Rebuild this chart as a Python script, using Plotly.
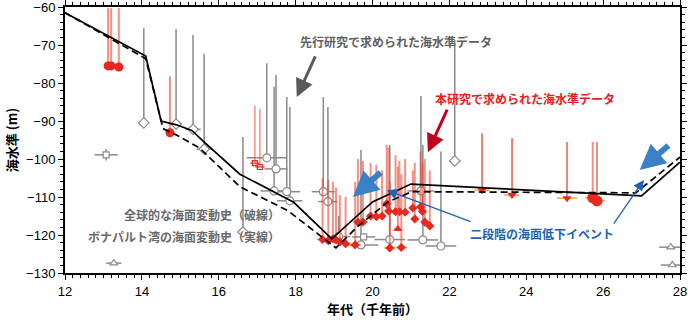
import plotly.graph_objects as go

# ---------------- sea-level history curves ----------------
bon_age = [12, 14.1, 14.5, 14.9, 15.3, 15.65, 16.55, 17.95, 18.94, 20.0, 21.0, 27.0, 28]
bon_sl = [-61.5, -72.9, -90.0, -91.0, -92.5, -95.8, -104.0, -111.4, -121.0, -111.3, -106.6, -109.7, -100.8]
glob_age = [12, 14.1, 14.55, 14.9, 15.5, 16.55, 17.8, 19.05, 19.6, 20.4, 21.02, 26.85, 28]
glob_sl = [-61.5, -73.6, -92.0, -93.7, -97.1, -107.3, -113.6, -123.4, -117.9, -111.3, -108.6, -108.9, -99.5]

# ---------------- previous studies (gray) ----------------
pc_age = [17.25, 17.49, 17.44, 17.77, 17.85, 18.72, 18.84, 19.12, 19.7, 20.45, 21.26, 21.31, 21.78]
pc_sl = [-99.7, -102.6, -108.4, -108.6, -111.0, -108.6, -111.2, -120.4, -122.6, -121.2, -108.4, -121.3, -122.9]
pc_xerr = [0.52, 0.3, 0.35, 0.35, 0.33, 0.3, 0.25, 0.3, 0.45, 0.4, 0.35, 0.4, 0.4]
pc_top = [-74.8, -77.9, -81.0, -83.7, -86.3, -83.7, -86.3, -115.0, -97.6, -96.3, -83.4, -96.3, -98.0]

pd_age = [14.05, 14.89, 15.33, 15.62, 16.63, 22.14]
pd_sl = [-90.5, -90.8, -92.2, -97.4, -119.2, -100.5]
pd_xerr = [0.0, 0.15, 0.2, 0.2, 0.0, 0.15]
pd_top = [-65.5, -65.8, -67.4, -72.4, -94.2, -68.7]

pt_age = [13.27, 27.76, 27.8]
pt_sl = [-127.4, -123.2, -127.9]
pt_xerr = [0.2, 0.3, 0.3]

ps_age = [13.07, 19.77]
ps_sl = [-98.9, -120.5]
ps_xerr = [0.3, 0.3]
ps_yerr = [1.5, 0.5]

# ---------------- this study (red) ----------------
rc_age = [13.12, 13.2, 13.4, 14.73]
rc_sl = [-75.5, -75.5, -75.8, -93.1]
rc_top = [-60.3, -60.3, -60.3, -78.2]

rs_age = [16.94, 17.07]
rs_sl = [-101.1, -102.1]
rs_top = [-86.0, -86.8]

rk_age = [18.7, 18.85, 18.97, 19.05, 19.15, 19.3, 19.55, 19.62, 19.75, 19.95, 20.1, 20.25,
          20.37, 20.42, 20.45, 20.6, 20.7, 20.75, 20.85, 21.05, 21.1, 21.25, 21.3, 21.36, 21.49]
rk_sl = [-121.2, -121.5, -121.0, -121.3, -121.8, -122.3, -122.6, -116.6, -116.6, -115.0, -115.2, -115.0,
         -111.8, -113.7, -123.4, -113.9, -113.9, -123.3, -114.0, -112.9, -115.8, -112.6, -113.8, -116.6, -117.6]
rk_top = [-105.0, -105.5, -106.0, -107.5, -109.5, -110.0, -106.0, -100.0, -100.5, -101.0, -101.5, -103.0,
          -96.3, -97.0, -106.0, -99.0, -100.5, -104.0, -100.0, -103.0, -101.0, -98.0, -101.0, -100.0, -103.0]
rk_xerr = [0.15, 0.15, 0.15, 0.15, 0.15, 0.15, 0.15, 0.12, 0.12, 0.1, 0.1, 0.1,
           0.12, 0.1, 0.15, 0.1, 0.1, 0.15, 0.1, 0.1, 0.1, 0.12, 0.1, 0.1, 0.1]

rtri_age = [20.66]
rtri_sl = [-118.4]
rtri_top = [-102.0]

rd_age = [22.85, 23.63, 25.06]
rd_sl = [-108.2, -109.5, -110.3]
rd_top = [-93.2, -94.5, -95.5]
rd_xerr = [0.2, 0.2, 0.27]

rb_age = [25.73, 25.84]
rb_sl = [-110.2, -111.0]
rb_top = [-95.5, -95.5]

GRAY = "#8a8a8a"
RED = "#e8281e"
RED_LINE = "rgba(236,70,50,0.6)"
ORANGE = "#f5a545"


def up(top, y):
    return [t - v for t, v in zip(top, y)]


fig = go.Figure()

# gray data
fig.add_trace(go.Scatter(x=pd_age, y=pd_sl, mode="markers",
                         marker=dict(symbol="diamond", size=8, color="white", line=dict(color=GRAY, width=1.2)),
                         error_y=dict(type="data", symmetric=False, array=up(pd_top, pd_sl), arrayminus=[0] * len(pd_sl),
                                      color=GRAY, thickness=1.5, width=0),
                         error_x=dict(type="data", array=pd_xerr, color=GRAY, thickness=1.5, width=0)))
fig.add_trace(go.Scatter(x=pc_age, y=pc_sl, mode="markers",
                         marker=dict(symbol="circle", size=8, color="white", line=dict(color=GRAY, width=1.2)),
                         error_y=dict(type="data", symmetric=False, array=up(pc_top, pc_sl), arrayminus=[0] * len(pc_sl),
                                      color=GRAY, thickness=1.5, width=0),
                         error_x=dict(type="data", array=pc_xerr, color=GRAY, thickness=1.5, width=0)))
fig.add_trace(go.Scatter(x=pt_age, y=pt_sl, mode="markers",
                         marker=dict(symbol="triangle-up", size=7, color="white", line=dict(color=GRAY, width=1.2)),
                         error_x=dict(type="data", array=pt_xerr, color=GRAY, thickness=1.5, width=0)))
fig.add_trace(go.Scatter(x=ps_age, y=ps_sl, mode="markers",
                         marker=dict(symbol="square", size=6, color="white", line=dict(color=GRAY, width=1.2)),
                         error_y=dict(type="data", array=ps_yerr, color=GRAY, thickness=1.5, width=0),
                         error_x=dict(type="data", array=ps_xerr, color=GRAY, thickness=1.5, width=0)))

# red data
fig.add_trace(go.Scatter(x=rk_age, y=rk_sl, mode="markers",
                         marker=dict(symbol="diamond", size=7, color=RED),
                         error_y=dict(type="data", symmetric=False, array=up(rk_top, rk_sl), arrayminus=[0] * len(rk_sl),
                                      color=RED_LINE, thickness=2, width=0),
                         error_x=dict(type="data", array=rk_xerr, color=ORANGE, thickness=1.5, width=0)))
fig.add_trace(go.Scatter(x=rtri_age, y=rtri_sl, mode="markers",
                         marker=dict(symbol="triangle-up", size=8, color=RED),
                         error_y=dict(type="data", symmetric=False, array=up(rtri_top, rtri_sl), arrayminus=[0],
                                      color=RED_LINE, thickness=2, width=0),
                         error_x=dict(type="data", array=[0.1], color=ORANGE, thickness=1.5, width=0)))
fig.add_trace(go.Scatter(x=rc_age, y=rc_sl, mode="markers",
                         marker=dict(symbol="circle", size=9, color=RED),
                         error_y=dict(type="data", symmetric=False, array=up(rc_top, rc_sl), arrayminus=[0] * len(rc_sl),
                                      color=RED_LINE, thickness=2, width=0)))
fig.add_trace(go.Scatter(x=rs_age, y=rs_sl, mode="markers",
                         marker=dict(symbol="square-open", size=5, color=RED, line=dict(width=1.2)),
                         error_y=dict(type="data", symmetric=False, array=up(rs_top, rs_sl), arrayminus=[0, 0],
                                      color=RED_LINE, thickness=1.5, width=0),
                         error_x=dict(type="data", array=[0.12, 0.12], color=RED, thickness=1.2, width=0)))
fig.add_trace(go.Scatter(x=rd_age, y=rd_sl, mode="markers",
                         marker=dict(symbol="triangle-down", size=8, color=RED),
                         error_y=dict(type="data", symmetric=False, array=up(rd_top, rd_sl), arrayminus=[0] * len(rd_sl),
                                      color="#e8402c", thickness=1.3, width=0),
                         error_x=dict(type="data", array=rd_xerr, color=ORANGE, thickness=1.5, width=0)))
fig.add_trace(go.Scatter(x=rb_age, y=rb_sl, mode="markers",
                         marker=dict(symbol="circle", size=11, color=RED),
                         error_y=dict(type="data", symmetric=False, array=up(rb_top, rb_sl), arrayminus=[0, 0],
                                      color=RED_LINE, thickness=2, width=0),
                         error_x=dict(type="data", array=[0.2, 0.2], color=ORANGE, thickness=1.5, width=0)))

# curves
fig.add_trace(go.Scatter(x=glob_age, y=glob_sl, mode="lines",
                         line=dict(color="black", width=1.7, dash="7px,4px")))
fig.add_trace(go.Scatter(x=bon_age, y=bon_sl, mode="lines",
                         line=dict(color="black", width=1.7)))

JP = "Noto Sans CJK JP"


def txt(x, y, s, color, anchor="center", size=12):
    fig.add_annotation(x=x, y=y, xref="x", yref="y", text="<b>" + s + "</b>", showarrow=False,
                       xanchor=anchor, yanchor="middle",
                       font=dict(family=JP, size=size, color=color))


def arrow(x0, y0, x1, y1, color, width, size):
    fig.add_annotation(x=x1, y=y1, ax=x0, ay=y0, xref="x", yref="y", axref="x", ayref="y",
                       text="", showarrow=True, arrowhead=2, arrowsize=size, arrowwidth=width,
                       arrowcolor=color)


txt(20.61, -69.2, "先行研究で求められた海水準データ", "#5f5f5f")
txt(23.96, -84.0, "本研究で求められた海水準データ", "#e8201a")
txt(17.64, -114.5, "全球的な海面変動史（破線）", "#6a6a6a", anchor="right")
txt(17.64, -120.3, "ボナパルト湾の海面変動史（実線）", "#6a6a6a", anchor="right")
txt(24.4, -119.5, "二段階の海面低下イベント", "#1a64b4")

arrow(18.53, -72.6, 18.03, -83.7, "#5a5a5a", 3, 1.2)
arrow(21.96, -86.6, 21.44, -98.2, "#c0001e", 3, 1.2)
arrow(20.25, -103.2, 19.49, -110.0, "#3a80c4", 6, 0.85)
arrow(27.74, -96.1, 26.95, -102.9, "#3a80c4", 6, 0.85)
arrow(22.59, -116.6, 20.37, -108.2, "#1a64b4", 1.3, 1.6)
arrow(26.25, -117.4, 27.06, -105.5, "#1a64b4", 1.3, 1.6)

axis_common = dict(showline=True, linecolor="black", linewidth=2, mirror="ticks",
                   ticks="outside", ticklen=5, tickwidth=1, tickcolor="black",
                   showgrid=False, zeroline=False, automargin=False,
                   ticklabeloverflow="allow",
                   tickfont=dict(family="Liberation Sans, Arial", size=13, color="black"))

fig.update_xaxes(range=[12, 28], dtick=2, tick0=12,
                 minor=dict(dtick=0.2, ticklen=3, ticks="outside", tickcolor="black"),
                 title=dict(text="<b>年代（千年前）</b>", font=dict(family=JP, size=13, color="black"), standoff=4),
                 **axis_common)
fig.update_yaxes(range=[-130, -60], dtick=10,
                 minor=dict(dtick=2, ticklen=3, ticks="outside", tickcolor="black"),
                 title=dict(text="<b>海水準 (m)</b>", font=dict(family=JP, size=13, color="black"), standoff=6),
                 **axis_common)

fig.update_layout(width=688, height=322, margin=dict(l=65, r=8, t=7, b=49, autoexpand=False),
                  plot_bgcolor="white", paper_bgcolor="white", showlegend=False)

fig.write_html("out.html")
